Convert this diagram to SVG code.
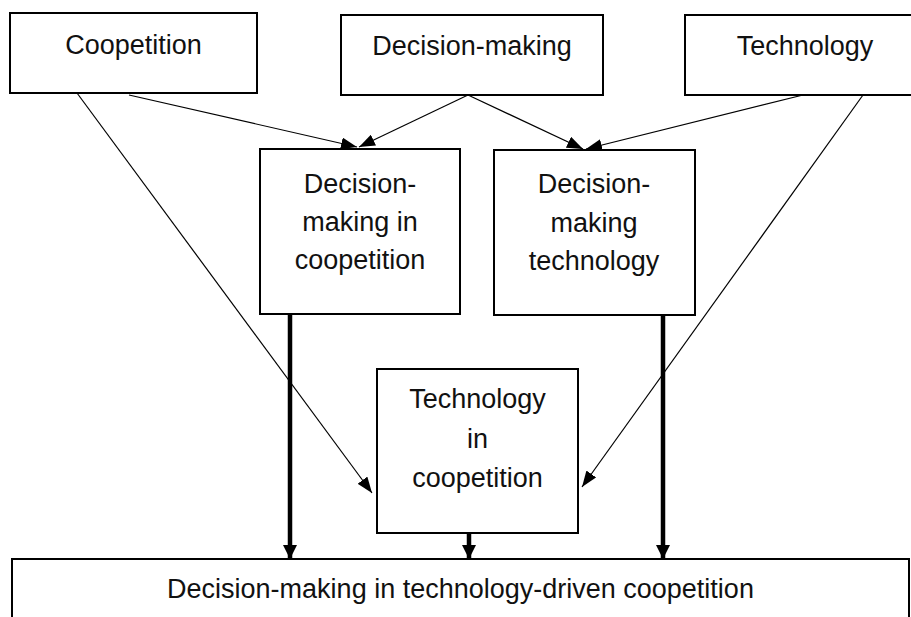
<svg xmlns="http://www.w3.org/2000/svg" width="911" height="617" viewBox="0 0 911 617">
  <defs>
    <marker id="thin-arrow" markerUnits="userSpaceOnUse" markerWidth="16" markerHeight="12" refX="16" refY="6" orient="auto">
      <path d="M0,0 L16,6 L0,12 Z" fill="#000"/>
    </marker>
    <marker id="thick-arrow" markerUnits="userSpaceOnUse" markerWidth="14" markerHeight="14" refX="14" refY="7" orient="auto">
      <path d="M0,0 L14,7 L0,14 Z" fill="#000"/>
    </marker>
  </defs>
  <style>
    rect.box { fill: #fff; stroke: #000; stroke-width: 2; }
    text { font-family: "Liberation Sans", Arial, sans-serif; font-size: 27px; fill: #111; text-anchor: middle; }
    .thin { stroke: #000; stroke-width: 1.2; fill: none; marker-end: url(#thin-arrow); }
    .thick { stroke: #000; stroke-width: 4.5; fill: none; marker-end: url(#thick-arrow); }
  </style>
  <rect width="911" height="617" fill="#fff"/>

  <g id="coopetition">
    <rect class="box" x="10" y="13" width="247" height="80"/>
    <text x="133.5" y="54">Coopetition</text>
  </g>
  <g id="decision-making">
    <rect class="box" x="341" y="15" width="262" height="80"/>
    <text x="472" y="55">Decision-making</text>
  </g>
  <g id="technology">
    <rect class="box" x="685" y="15" width="240" height="80"/>
    <text x="805" y="55">Technology</text>
  </g>
  <g id="dm-in-coopetition">
    <rect class="box" x="260" y="149" width="200" height="165"/>
    <text x="360" y="193">Decision-</text>
    <text x="360" y="231">making in</text>
    <text x="360" y="269">coopetition</text>
  </g>
  <g id="dm-technology">
    <rect class="box" x="494" y="150" width="201" height="165"/>
    <text x="594" y="193">Decision-</text>
    <text x="594" y="232">making</text>
    <text x="594" y="270">technology</text>
  </g>
  <g id="technology-in-coopetition">
    <rect class="box" x="377" y="369" width="201" height="164"/>
    <text x="477.5" y="408">Technology</text>
    <text x="477.5" y="448">in</text>
    <text x="477.5" y="487">coopetition</text>
  </g>
  <g id="outcome">
    <rect class="box" x="12" y="559" width="897" height="80"/>
    <text x="460.5" y="598">Decision-making in technology-driven coopetition</text>
  </g>

  <g id="connectors">
    <line class="thin" x1="129" y1="95" x2="357" y2="147"/>
    <line class="thin" x1="468" y1="95" x2="359" y2="147"/>
    <line class="thin" x1="468" y1="95" x2="583" y2="149"/>
    <line class="thin" x1="803" y1="95" x2="586" y2="149"/>
    <line class="thin" x1="77" y1="93" x2="372" y2="493"/>
    <line class="thin" x1="863" y1="95" x2="582" y2="487"/>
    <line class="thick" x1="290" y1="315" x2="290" y2="559"/>
    <line class="thick" x1="469" y1="534" x2="469" y2="559"/>
    <line class="thick" x1="663" y1="316" x2="663" y2="559"/>
  </g>
</svg>
